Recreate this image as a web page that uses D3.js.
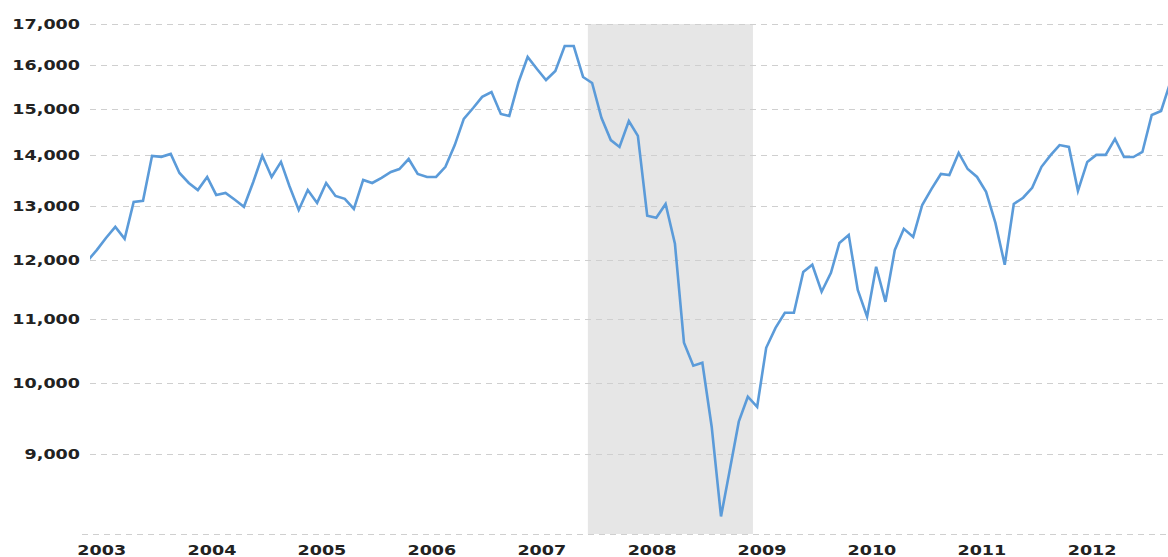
<!DOCTYPE html>
<html>
<head>
<meta charset="utf-8">
<script src="https://cdn.jsdelivr.net/npm/d3@7/dist/d3.min.js"></script>
<style>
  body { margin: 0; background: #fff; }
</style>
</head>
<body>
<div id="chart"></div>
<script>
// monthly readings, May 2003 .. Mar 2013
const firstMonth = "2003-05";
const lastMonth = "2013-03";
const values = [
  11980, 12175, 12390, 12595, 12375, 13070, 13090, 13990,
  13970, 14030, 13640, 13440, 13300, 13560, 13205, 13245, 13110, 12975, 13460, 13990,
  13560, 13865, 13380, 12915, 13300, 13050, 13440, 13185, 13130, 12935, 13500, 13440,
  13540, 13660, 13720, 13925, 13620, 13560, 13560, 13765, 14215, 14775, 15015, 15265,
  15375, 14885, 14840, 15605, 16190, 15905, 15650, 15860, 16455, 16455, 15720, 15580,
  14800, 14320, 14175, 14730, 14410, 12805, 12765, 13030, 12285, 10615, 10260, 10305,
  9375, 8210, 8770, 9445, 9800, 9655, 10535, 10850, 11095, 11095, 11785, 11910,
  11445, 11770, 12300, 12445, 11475, 11030, 11875, 11275, 12175, 12560, 12410, 13010,
  13325, 13620, 13600, 14050, 13720, 13560, 13265, 12670, 11910, 13030, 13150, 13345,
  13765, 14010, 14215, 14175, 13285, 13865, 14010, 14010, 14345, 13965, 13965, 14070,
  14860, 14950, 15540
];
const yTicks = [8000, 9000, 10000, 11000, 12000, 13000, 14000, 15000, 16000, 17000];
const yearLabels = [2003, 2004, 2005, 2006, 2007, 2008, 2009, 2010, 2011, 2012];
const recession = ["2007-12-01", "2009-06-01"];
const viewRange = ["2003-05-23", "2013-03-10"];

const W = 1168, H = 557;
const plotLeft = 90, plotRight = 1168, plotTop = 24, plotBottom = 534;
const parse = d3.timeParse("%Y-%m-%d");

const months = d3.timeMonth.range(
  d3.timeParse("%Y-%m")(firstMonth),
  d3.timeMonth.offset(d3.timeParse("%Y-%m")(lastMonth), 1)
);
const data = months.map((m, i) => ({ date: d3.timeDay.offset(m, 14), value: values[i] }));

const svg = d3.select("#chart").append("svg")
  .attr("width", W)
  .attr("height", H);

const x = d3.scaleTime()
  .domain(viewRange.map(parse))
  .range([plotLeft, plotRight]);

const y = d3.scaleLog()
  .domain([8000, 17000])
  .range([plotBottom, plotTop]);

svg.append("defs").append("clipPath")
  .attr("id", "plotclip")
  .append("rect")
  .attr("x", plotLeft)
  .attr("y", 0)
  .attr("width", plotRight - plotLeft)
  .attr("height", H);

// recession band
svg.append("rect")
  .attr("x", x(parse(recession[0])))
  .attr("y", y(17000))
  .attr("width", x(parse(recession[1])) - x(parse(recession[0])))
  .attr("height", y(8000) - y(17000))
  .attr("fill", "#e6e6e6");

// grid
svg.append("g")
  .selectAll("line")
  .data(yTicks)
  .enter()
  .append("line")
  .attr("x1", (d) => (d === 8000 ? 82 : plotLeft))
  .attr("x2", plotRight)
  .attr("y1", (d) => Math.round(y(d)) + 0.5)
  .attr("y2", (d) => Math.round(y(d)) + 0.5)
  .attr("stroke", "#cfcfcf")
  .attr("stroke-width", 1)
  .attr("stroke-dasharray", "6,5");

const fmt = d3.format(",");
const sx = 1.3;

svg.append("g")
  .selectAll("g")
  .data(yTicks.filter((d) => d > 8000))
  .enter()
  .append("g")
  .attr("transform", (d) => "translate(80," + (y(d) + 5) + ")")
  .append("text")
  .attr("transform", "scale(" + sx + ",1)")
  .attr("text-anchor", "end")
  .style("font-family", "'DejaVu Sans', Verdana, sans-serif")
  .style("font-size", "13.5px")
  .style("font-weight", "bold")
  .attr("fill", "#222")
  .text(fmt);

svg.append("g")
  .selectAll("g")
  .data(yearLabels)
  .enter()
  .append("g")
  .attr("transform", (d) => "translate(" + x(new Date(d, 6, 1)) + ",555)")
  .append("text")
  .attr("transform", "scale(" + sx + ",1)")
  .attr("text-anchor", "middle")
  .style("font-family", "'DejaVu Sans', Verdana, sans-serif")
  .style("font-size", "13.5px")
  .style("font-weight", "bold")
  .attr("fill", "#222")
  .text((d) => d);

const line = d3.line()
  .x((d) => x(d.date))
  .y((d) => y(d.value));

svg.append("path")
  .datum(data)
  .attr("clip-path", "url(#plotclip)")
  .attr("d", line)
  .attr("fill", "none")
  .attr("stroke", "#5b9bd9")
  .attr("stroke-width", 2.6)
  .attr("stroke-linejoin", "miter");
</script>
</body>
</html>
